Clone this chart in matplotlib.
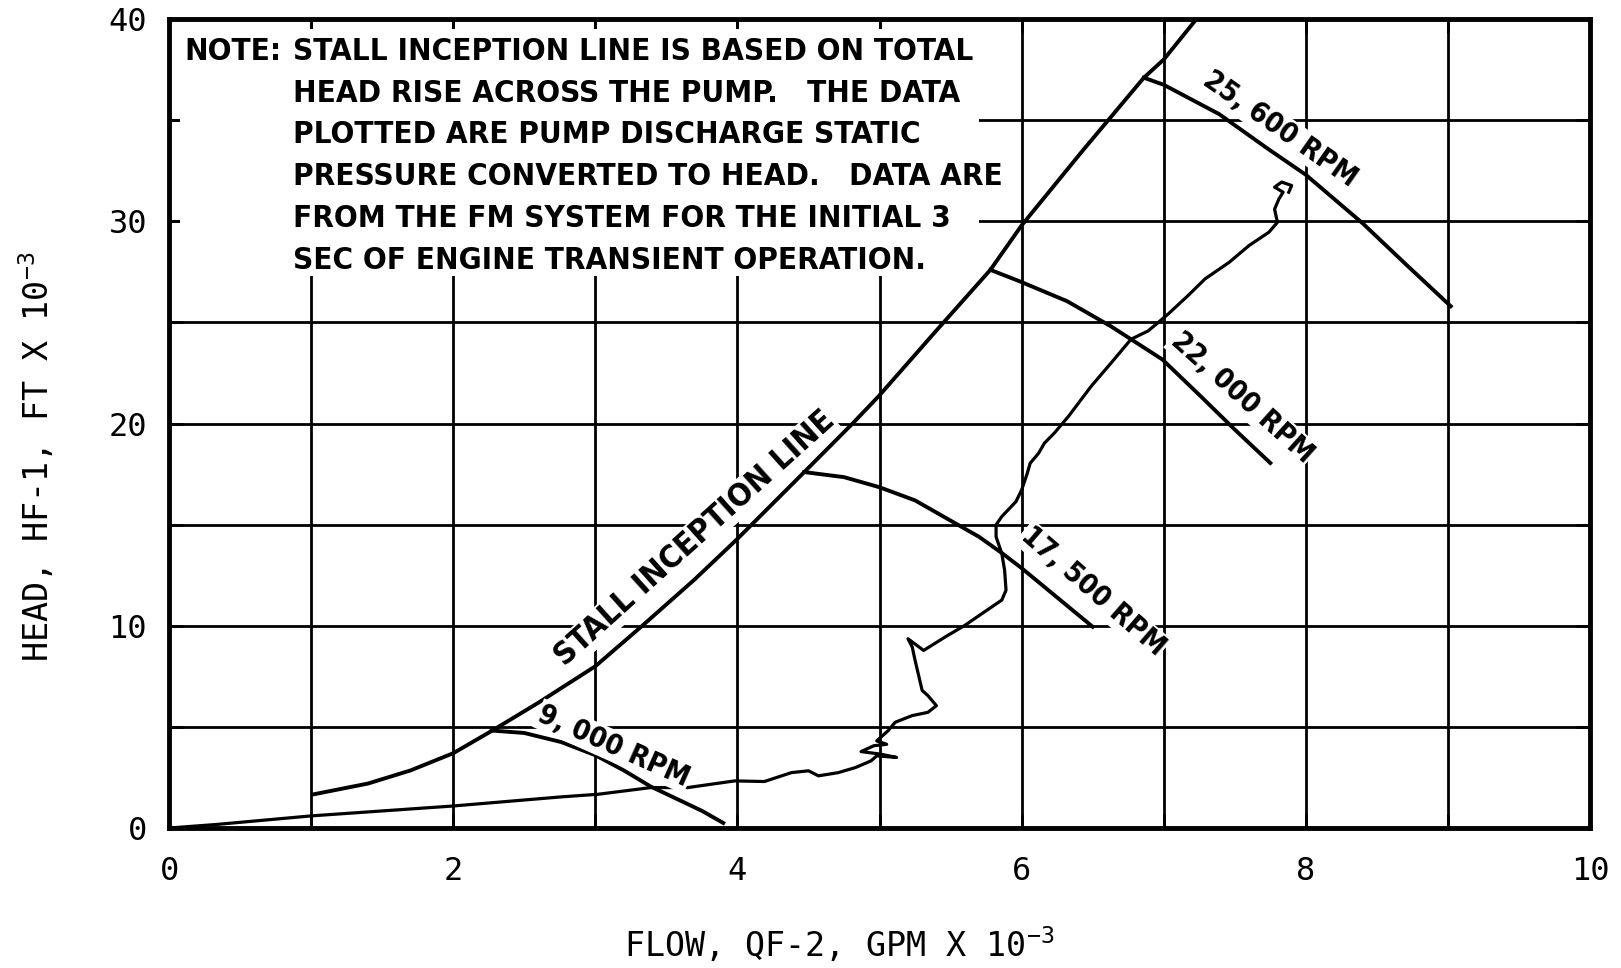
import matplotlib
matplotlib.use("Agg")
import matplotlib.pyplot as plt
from matplotlib import font_manager
from matplotlib.font_manager import FontProperties
from matplotlib.patches import Rectangle

# stall inception line (flow in GPM x 1e-3, head in FT x 1e-3)
stall_x = [1.02, 1.4, 1.7, 2.0, 2.27, 2.6, 3.0, 3.33, 3.7, 4.0, 4.47, 4.81,
           5.0, 5.4, 5.78, 6.0, 6.43, 6.86, 7.0, 7.23]
stall_y = [1.67, 2.2, 2.85, 3.7, 4.8, 6.2, 8.0, 10.0, 12.3, 14.3, 17.6, 20.0,
           21.4, 24.6, 27.6, 29.8, 33.5, 37.1, 38.0, 40.0]

# constant speed lines
rpm9000_x = [2.27, 2.5, 2.76, 3.0, 3.2, 3.39, 3.6, 3.75, 3.9]
rpm9000_y = [4.82, 4.7, 4.25, 3.6, 2.85, 2.05, 1.35, 0.85, 0.25]

rpm17500_x = [4.47, 4.75, 5.0, 5.25, 5.5, 5.7, 5.86, 6.0, 6.25, 6.5]
rpm17500_y = [17.6, 17.35, 16.85, 16.2, 15.2, 14.4, 13.6, 12.85, 11.4, 9.95]

rpm22000_x = [5.78, 5.98, 6.32, 6.63, 6.99, 7.26, 7.5, 7.75]
rpm22000_y = [27.6, 27.05, 26.05, 24.8, 23.17, 21.35, 19.7, 18.05]

rpm25600_x = [6.86, 7.0, 7.39, 7.73, 8.0, 8.4, 8.7, 9.02]
rpm25600_y = [37.1, 36.75, 35.3, 33.6, 32.3, 29.9, 27.9, 25.8]

# measured pump discharge trace (first 3 sec)
trace_x = [0.0, 0.34, 1.0, 2.0, 2.76, 3.02, 3.39, 3.65, 3.98, 4.19, 4.38, 4.50,
           4.57, 4.71, 4.83, 4.94, 4.98, 5.12, 5.01, 4.87, 4.96, 5.05, 4.98,
           5.06, 5.11, 5.23, 5.34, 5.40, 5.34, 5.30, 5.25, 5.23, 5.20, 5.31,
           5.46, 5.60, 5.72, 5.86, 5.89, 5.88, 5.86, 5.82, 5.82, 5.86, 5.96,
           6.0, 6.04, 6.06, 6.12, 6.16, 6.23, 6.33, 6.49, 6.63, 6.77, 6.89,
           6.96, 7.03, 7.17, 7.29, 7.46, 7.60, 7.74, 7.80, 7.78, 7.81, 7.84,
           7.78, 7.83, 7.90, 7.88]
trace_y = [0.0, 0.18, 0.6, 1.09, 1.54, 1.67, 2.0, 2.0, 2.33, 2.3, 2.74, 2.83,
           2.58, 2.74, 2.99, 3.32, 3.57, 3.49, 3.65, 3.78, 4.07, 4.14, 4.31,
           4.81, 5.23, 5.56, 5.72, 6.05, 6.55, 6.8, 8.29, 8.95, 9.36, 8.78,
           9.44, 10.02, 10.6, 11.27, 11.76, 12.75, 13.58, 14.4, 14.99, 15.4,
           16.14, 16.72, 17.55, 18.04, 18.54, 19.03, 19.53, 20.36, 21.85, 23.0,
           24.17, 24.58, 24.99, 25.41, 26.32, 27.15, 27.97, 28.8, 29.46, 29.95,
           30.6, 31.1, 31.44, 31.69, 31.94, 31.77, 31.44]

xtick_vals = list(range(0, 11))
xtick_labels = ["0", "", "2", "", "4", "", "6", "", "8", "", "10"]
ytick_vals = list(range(0, 41, 5))
ytick_labels = ["0", "", "10", "", "20", "", "30", "", "40"]

note_lines = ["STALL INCEPTION LINE IS BASED ON TOTAL",
              "HEAD RISE ACROSS THE PUMP.   THE DATA",
              "PLOTTED ARE PUMP DISCHARGE STATIC",
              "PRESSURE CONVERTED TO HEAD.   DATA ARE",
              "FROM THE FM SYSTEM FOR THE INITIAL 3",
              "SEC OF ENGINE TRANSIENT OPERATION."]


def weight_num(w):
    if isinstance(w, (int, float)):
        return w
    return font_manager.weight_dict.get(str(w), 400)


# look for a condensed / narrow face for the note lettering
cands = []
for f in font_manager.fontManager.ttflist:
    narrow = ('ondensed' in f.name or 'Narrow' in f.name or
              str(f.stretch) in ('condensed', 'semi-condensed',
                                 'extra-condensed'))
    if narrow and f.style == 'normal':
        cands.append(f)
bold = [f for f in cands if weight_num(f.weight) >= 600]
pick = None
if bold:
    pick = sorted(bold, key=lambda f: abs(weight_num(f.weight) - 700))[0]
elif cands:
    pick = cands[0]

if pick is not None:
    def note_fp(size):
        return FontProperties(fname=pick.fname, size=size)
    note_size = 22.5
else:
    def note_fp(size):
        return FontProperties(family='DejaVu Sans', weight='bold', size=size)
    note_size = 19

mono = "DejaVu Sans Mono"
plt.rcParams['mathtext.fontset'] = 'custom'
plt.rcParams['mathtext.rm'] = mono
plt.rcParams['mathtext.it'] = mono

fig = plt.figure(figsize=(16.21, 9.68), dpi=100)
ax = fig.add_axes([0.1043, 0.1446, 0.8766, 0.8357])

ax.set_xlim(0, 10)
ax.set_ylim(0, 40)
ax.set_axisbelow(True)
ax.grid(True, color='black', linewidth=2.0)
for s in ax.spines.values():
    s.set_linewidth(3.5)
ax.set_xticks(xtick_vals, labels=xtick_labels)
ax.set_yticks(ytick_vals, labels=ytick_labels)
ax.tick_params(direction='in', length=10, width=2, top=True, right=True,
               labelsize=23)
ax.tick_params(axis='x', pad=20)
ax.tick_params(axis='y', pad=16)
for t in ax.get_xticklabels() + ax.get_yticklabels():
    t.set_fontfamily(mono)

# white area behind the note
ax.add_patch(Rectangle((0.08, 27.3), 5.62, 12.2, facecolor='white',
                       edgecolor='none', zorder=1))

lw = 2.8
ax.plot(stall_x, stall_y, color='black', lw=lw, zorder=2)
ax.plot(rpm9000_x, rpm9000_y, color='black', lw=lw, zorder=2)
ax.plot(rpm17500_x, rpm17500_y, color='black', lw=lw, zorder=2)
ax.plot(rpm22000_x, rpm22000_y, color='black', lw=lw, zorder=2)
ax.plot(rpm25600_x, rpm25600_y, color='black', lw=lw, zorder=2)
ax.plot(trace_x, trace_y, color='black', lw=2.3, zorder=2)

lab = dict(ha='center', va='center', rotation_mode='anchor',
           bbox=dict(facecolor='white', edgecolor='none', pad=1.0))
ax.text(3.7, 14.3, "STALL INCEPTION LINE", rotation=42,
        fontproperties=note_fp(23), **lab)
ax.text(3.13, 4.05, "9, 000 RPM", rotation=-24,
        fontproperties=note_fp(20.5), **lab)
ax.text(6.5, 11.7, "17, 500 RPM", rotation=-41,
        fontproperties=note_fp(20.5), **lab)
ax.text(7.55, 21.3, "22, 000 RPM", rotation=-42,
        fontproperties=note_fp(20.5), **lab)
ax.text(7.82, 34.55, "25, 600 RPM", rotation=-35,
        fontproperties=note_fp(20.5), **lab)

ax.text(0.11, 39.13, "NOTE:", fontproperties=note_fp(note_size),
        ha='left', va='top', zorder=3)
ax.text(0.87, 39.13, "\n".join(note_lines), fontproperties=note_fp(note_size),
        ha='left', va='top', linespacing=1.56, zorder=3)

fig.text(0.518, 0.025, r"FLOW, QF-2, GPM X 10$^{-3}$", family=mono,
         fontsize=24, ha='center', va='center')
fig.text(0.022, 0.528, r"HEAD, HF-1, FT X 10$^{-3}$", family=mono,
         fontsize=24, ha='center', va='center', rotation=90)

fig.savefig("out.png", dpi=100)
